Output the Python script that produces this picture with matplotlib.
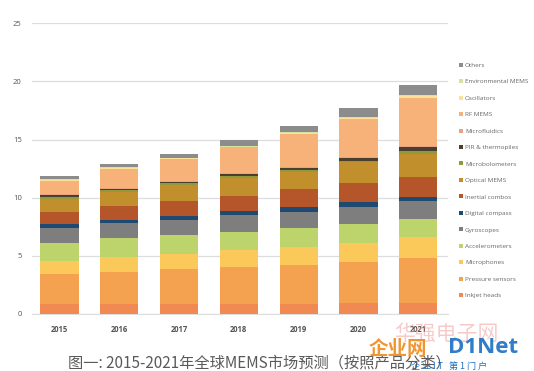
import matplotlib
matplotlib.use("Agg")
import matplotlib.pyplot as plt
import numpy as np

plt.rcParams['font.family'] = ['Open Sans', 'Noto Sans CJK SC', 'DejaVu Sans']

years = ['2015', '2016', '2017', '2018', '2019', '2020', '2021']
series = ['Inkjet heads', 'Pressure sensors', 'Microphones', 'Accelerometers',
          'Gyroscopes', 'Digital compass', 'Inertial combos', 'Optical MEMS',
          'Microbolometers', 'PIR & thermopiles', 'Microfluidics', 'RF MEMS',
          'Oscillators', 'Environmental MEMS', 'Others']

inkjet        = [0.86, 0.83, 0.83, 0.86, 0.86, 0.92, 0.92]
pressure      = [2.58, 2.81, 3.01, 3.15, 3.33, 3.58, 3.87]
microphones   = [1.12, 1.29, 1.32, 1.49, 1.60, 1.64, 1.80]
accelerometer = [1.58, 1.58, 1.63, 1.58, 1.61, 1.60, 1.58]
gyroscopes    = [1.29, 1.29, 1.29, 1.43, 1.40, 1.49, 1.55]
compass       = [0.28, 0.29, 0.35, 0.35, 0.37, 0.37, 0.37]
inertial      = [1.06, 1.20, 1.26, 1.32, 1.55, 1.64, 1.72]
optical       = [1.09, 1.23, 1.41, 1.49, 1.52, 1.80, 1.95]
microbolo     = [0.23, 0.15, 0.14, 0.20, 0.15, 0.12, 0.29]
pir           = [0.12, 0.11, 0.08, 0.14, 0.20, 0.23, 0.34]
microfluidics = [0.09, 0.07, 0.09, 0.09, 0.08, 0.08, 0.09]
rf            = [1.14, 1.60, 1.89, 2.23, 2.81, 3.30, 4.13]
oscillators   = [0.09, 0.08, 0.09, 0.06, 0.09, 0.12, 0.11]
environmental = [0.05, 0.07, 0.06, 0.06, 0.05, 0.08, 0.12]
others        = [0.29, 0.27, 0.34, 0.49, 0.55, 0.78, 0.86]

data = [inkjet, pressure, microphones, accelerometer, gyroscopes, compass,
        inertial, optical, microbolo, pir, microfluidics, rf, oscillators,
        environmental, others]
colors = ['#F08A52', '#F5A250', '#FBC85A', '#BDD46C', '#7E7E7E', '#1E4A72',
          '#B5552A', '#C1902D', '#8E9A3C', '#4B3F2F', '#EBA283', '#F7B27A',
          '#FBE29A', '#D6E3A0', '#8C8C8C']

fig = plt.figure(figsize=(5.34, 3.71), dpi=100)
ax = fig.add_axes([0.059, 0.154, 0.78, 0.783])

x = np.arange(len(years))
bottom = np.zeros(len(years))
handles = []
for name, vals, c in zip(series, data, colors):
    h = ax.bar(x, vals, 0.64, bottom=bottom, color=c, label=name, zorder=3)
    handles.append(h)
    bottom += np.array(vals)

ax.set_ylim(0, 25)
ax.set_xlim(-0.47, 6.5)
ax.set_yticks([0, 5, 10, 15, 20, 25])
ax.yaxis.grid(True, color='#DDDDDD', linewidth=0.9, zorder=0)
for s in ['top', 'right', 'left']:
    ax.spines[s].set_visible(False)
ax.spines['bottom'].set_color('#DDDDDD')
ax.tick_params(axis='both', length=0, colors='#555555', labelsize=5.5)
ax.tick_params(axis='y', pad=7)
ax.tick_params(axis='x', pad=8)
ax.set_xticks(x)
ax.set_xticklabels(years, fontweight='bold')

leg = fig.legend(handles[::-1], series[::-1], loc='upper left',
                 bbox_to_anchor=(0.855, 0.838), frameon=False, fontsize=4.6,
                 handlelength=0.6, handleheight=0.6, handletextpad=0.3,
                 labelspacing=1.75, borderaxespad=0)
for t in leg.get_texts():
    t.set_color('#666666')

fig.text(0.128, 0.028, '图一: 2015-2021年全球MEMS市场预测（按照产品分类）',
         fontsize=11, color='#5A5A5A', style='italic',
         family=['Noto Sans CJK SC', 'DejaVu Sans'], ha='left', va='center_baseline')

# watermark
fig.text(0.835, 0.100, '华强电子网', fontsize=15, color='#F2A0A0', alpha=0.55,
         family=['Noto Sans CJK SC'], ha='center', va='center')
fig.text(0.745, 0.058, '企业网', fontsize=14, color='#F08A1C', alpha=0.9,
         family=['Noto Sans CJK SC'], ha='center', va='center', fontweight='bold')
fig.text(0.905, 0.062, 'D1Net', fontsize=16, color='#1A6FC0', alpha=0.9,
         ha='center', va='center', fontweight='bold')
fig.text(0.84, 0.0, '企 业 I T   第 1 门 户', fontsize=6.5, color='#1A6FC0',
         family=['Noto Sans CJK SC'], ha='center', va='bottom')

fig.savefig('out.png', dpi=100)
